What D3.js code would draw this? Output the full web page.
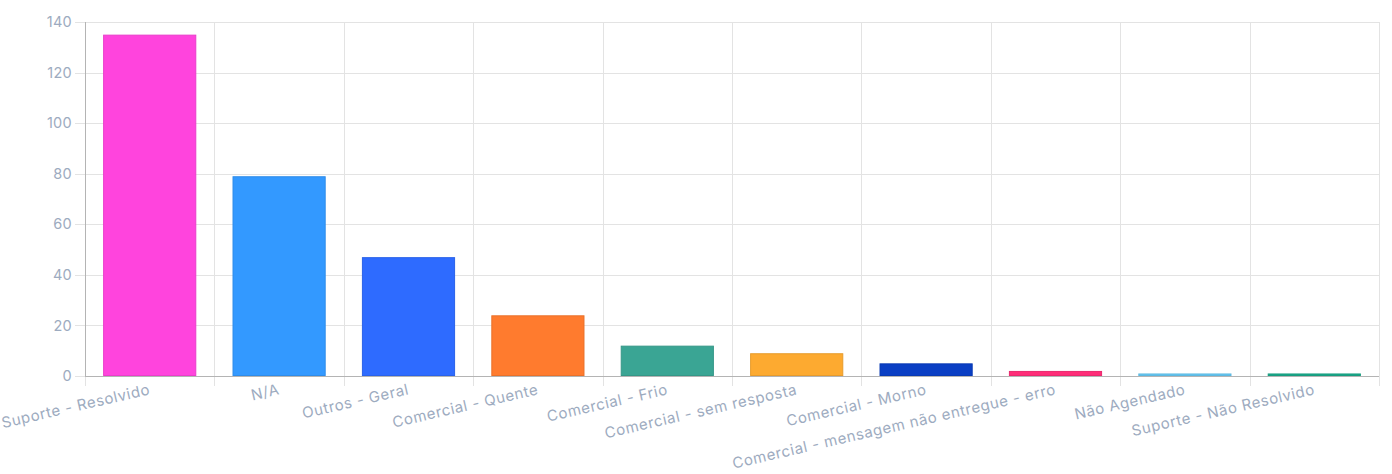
<!DOCTYPE html>
<html>
<head>
<meta charset="utf-8">
<script src="https://cdn.jsdelivr.net/npm/d3@7"></script>
<style>
  body { margin: 0; background: #fff; }
  svg text { font-family: "Inter", "Lato", sans-serif; fill: #9dabc0; }
</style>
</head>
<body>
<svg id="chart" width="1392" height="474"></svg>
<script>
// chart data
const categories = ["Suporte - Resolvido", "N/A", "Outros - Geral", "Comercial - Quente",
  "Comercial - Frio", "Comercial - sem resposta", "Comercial - Morno",
  "Comercial - mensagem não entregue - erro", "Não Agendado", "Suporte - Não Resolvido"];
const counts = [135, 79, 47, 24, 12, 9, 5, 2, 1, 1];
const colors = ["#ff44dd", "#3399ff", "#2e6bff", "#ff7b2e", "#3aa594",
  "#fdaa30", "#0a3fc4", "#ff2d78", "#66c9f5", "#1aab8b"];
const yTicks = [0, 20, 40, 60, 80, 100, 120, 140];

var margin = {top: 22, right: 13, bottom: 98, left: 85},
    width = 1392 - margin.left - margin.right,
    height = 474 - margin.top - margin.bottom;

var svg = d3.select("#chart")
  .append("g")
  .attr("transform", "translate(" + margin.left + "," + margin.top + ")");

var x = d3.scaleBand()
  .domain(categories)
  .range([0, width])
  .paddingInner(0.28)
  .paddingOuter(0.14);

var y = d3.scaleLinear()
  .domain([0, 140])
  .range([height, 0]);

// horizontal grid + left ticks
svg.selectAll(".hgrid")
  .data(yTicks)
  .enter()
  .append("line")
  .attr("x1", -10)
  .attr("x2", width)
  .attr("y1", d => Math.round(y(d)) + 0.5)
  .attr("y2", d => Math.round(y(d)) + 0.5)
  .attr("stroke", "#e3e3e3");

// vertical grid at category boundaries (+ bottom ticks)
let step = x.step();
let bounds = d3.range(categories.length + 1).map(i => i * step);
svg.selectAll(".vgrid")
  .data(bounds)
  .enter()
  .append("line")
  .attr("x1", d => Math.round(d) + 0.5)
  .attr("x2", d => Math.round(d) + 0.5)
  .attr("y1", 0)
  .attr("y2", height + 10)
  .attr("stroke", "#e3e3e3");

// axis borders
svg.append("line")
  .attr("x1", 0.5).attr("x2", 0.5)
  .attr("y1", 0).attr("y2", height)
  .attr("stroke", "#b4b4b4");
svg.append("line")
  .attr("x1", 0).attr("x2", width)
  .attr("y1", height + 0.5).attr("y2", height + 0.5)
  .attr("stroke", "#b4b4b4");

// y labels
svg.selectAll(".ylab")
  .data(yTicks)
  .enter()
  .append("text")
  .attr("x", -13)
  .attr("y", d => y(d))
  .attr("dy", "0.35em")
  .attr("text-anchor", "end")
  .style("font-size", "14.5px")
  .style("letter-spacing", "0.3px")
  .text(d => d);

// bars
svg.selectAll(".bar")
  .data(categories)
  .enter()
  .append("rect")
  .attr("x", d => x(d) + 0.5)
  .attr("y", (d, i) => y(counts[i]) + 0.5)
  .attr("width", x.bandwidth() - 1)
  .attr("height", (d, i) => height - y(counts[i]) - 1)
  .attr("fill", (d, i) => colors[i])
  .attr("stroke", (d, i) => d3.color(colors[i]).darker(0.25))
  .attr("stroke-width", 1);

// x labels, rotated, right end at category center
svg.selectAll(".xlab")
  .data(categories)
  .enter()
  .append("text")
  .attr("transform", d => "translate(" + (x(d) + x.bandwidth() / 2) + "," + (height + 13) + ") rotate(-13)")
  .attr("text-anchor", "end")
  .attr("dy", "0.35em")
  .style("font-size", "15px")
  .style("letter-spacing", "0.6px")
  .text(d => d);
</script>
</body>
</html>
